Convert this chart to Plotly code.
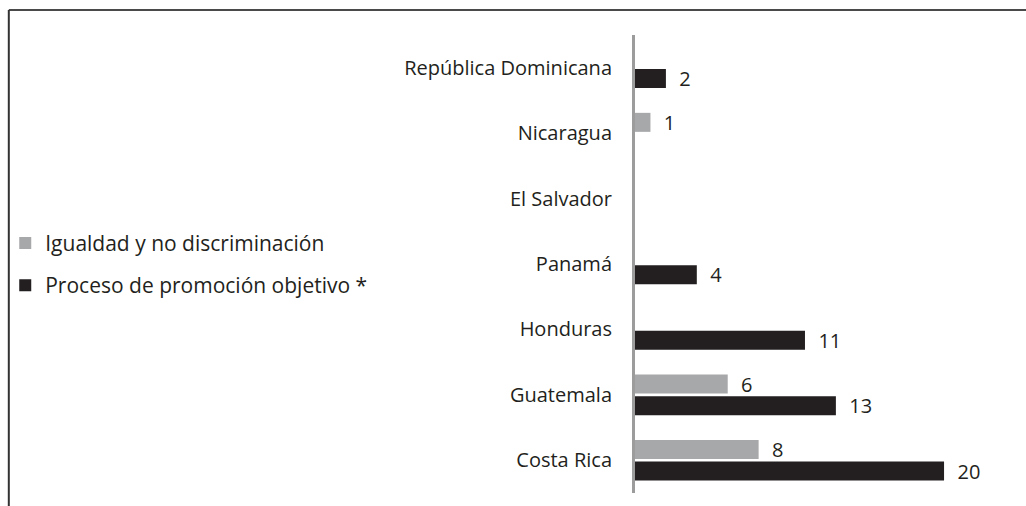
import plotly.graph_objects as go

# Countries listed from the bottom of the chart to the top
countries = ["Costa Rica", "Guatemala", "Honduras", "Panamá",
             "El Salvador", "Nicaragua", "República Dominicana"]
igualdad = [8, 6, None, None, None, 1, None]
proceso = [20, 13, 11, 4, None, None, 2]

serie_igualdad = "Igualdad y no discriminación"
serie_proceso = "Proceso de promoción objetivo *"

GRAY = "#a7a8aa"
BLACK = "#231f20"
FONT = "Open Sans"
SIZE = 20


def labels(values):
    return [f"\u00a0\u00a0{v}" if v is not None else "" for v in values]


fig = go.Figure()
fig.add_trace(go.Bar(
    y=countries, x=proceso, orientation="h", name=serie_proceso,
    marker=dict(color=BLACK, line=dict(width=0)),
    text=labels(proceso), textposition="outside",
    cliponaxis=False, constraintext="none",
    textfont=dict(family=FONT, size=SIZE, color=BLACK),
    legendrank=2, legendgroup="b",
))
fig.add_trace(go.Bar(
    y=countries, x=igualdad, orientation="h", name=serie_igualdad,
    marker=dict(color=GRAY, line=dict(width=0)),
    text=labels(igualdad), textposition="outside",
    cliponaxis=False, constraintext="none",
    textfont=dict(family=FONT, size=SIZE, color=BLACK),
    legendrank=1, legendgroup="a",
))

fig.update_layout(
    width=1026, height=506,
    margin=dict(l=635, r=7, t=35, b=13, autoexpand=False),
    paper_bgcolor="white", plot_bgcolor="white",
    barmode="group", bargap=0.34, bargroupgap=0.12,
    font=dict(family=FONT, size=SIZE, color=BLACK),
    showlegend=True,
    legend=dict(
        x=-1.64, xanchor="left", y=0.59, yanchor="top",
        font=dict(family=FONT, size=21, color=BLACK),
        tracegroupgap=12, bgcolor="rgba(0,0,0,0)",
    ),
    xaxis=dict(range=[0, 24.85], visible=False, fixedrange=True),
    yaxis=dict(
        categoryorder="array", categoryarray=countries,
        range=[-0.5, 6.5],
        showline=True, linecolor="#9c9c9c", linewidth=3,
        showgrid=False, zeroline=False, ticks="",
        ticklabelstandoff=16,
        tickfont=dict(family=FONT, size=SIZE, color=BLACK),
    ),
    shapes=[
        # frame: top and left edges
        dict(type="line", xref="paper", yref="paper",
             x0=-1.6307, x1=1.03, y0=1.0546, y1=1.0546,
             line=dict(color="#4a4a4a", width=2)),
        dict(type="line", xref="paper", yref="paper",
             x0=-1.6307, x1=-1.6307, y0=1.0546, y1=-0.03,
             line=dict(color="#333333", width=2)),
    ],
)

fig.write_html("out.html")
